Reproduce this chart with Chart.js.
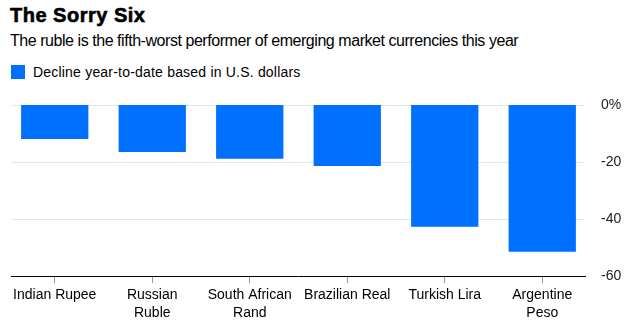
<!DOCTYPE html>
<html>
<head>
<meta charset="utf-8">
<script src="https://cdn.jsdelivr.net/npm/chart.js@4/dist/chart.umd.min.js"></script>
<style>
  html, body { margin: 0; padding: 0; background: #fff; }
  #wrap { position: relative; width: 626px; height: 334px; overflow: hidden; }
  #title { position: absolute; left: 10px; top: 4px; font: 900 20px "Liberation Sans", Arial, sans-serif; color: #000; letter-spacing: 0.5px; -webkit-text-stroke: 0.6px #000; white-space: nowrap; }
  #subtitle { position: absolute; left: 10px; top: 32px; font: 16px "Liberation Sans", Arial, sans-serif; color: #000; letter-spacing: -0.45px; white-space: nowrap; }
  #legend { position: absolute; left: 11px; top: 64px; font: 14px "Liberation Sans", Arial, sans-serif; color: #000; letter-spacing: 0.2px; white-space: nowrap; }
  #legend .sw { display: inline-block; width: 14px; height: 14px; background: #0070ff; vertical-align: -2px; margin-right: 8px; }
  canvas { position: absolute; left: 0; top: 0; }
</style>
</head>
<body>
<div id="wrap">
  <div id="title">The Sorry Six</div>
  <div id="subtitle">The ruble is the fifth-worst performer of emerging market currencies this year</div>
  <div id="legend"><span class="sw"></span>Decline year-to-date based in U.S. dollars</div>
  <canvas id="c" width="626" height="334"></canvas>
</div>
<script>
// Currencies (two-line axis labels)
const currencies = [
  ['Indian Rupee'],
  ['Russian', 'Ruble'],
  ['South African', 'Rand'],
  ['Brazilian Real'],
  ['Turkish Lira'],
  ['Argentine', 'Peso']
];
// Year-to-date change against the U.S. dollar, percent
const declinePct = [-11.9, -16.5, -18.9, -21.4, -42.7, -51.5];
const yTicks = [0, -20, -40, -60];

const BLUE = '#0070ff';

// Light horizontal guides and the black baseline at the bottom of the scale
const guideLines = {
  id: 'guideLines',
  beforeDatasetsDraw(chart) {
    const { ctx, scales: { y } } = chart;
    ctx.save();
    yTicks.forEach(v => {
      const py = Math.round(y.getPixelForValue(v)) + 0.5;
      ctx.beginPath();
      if (v === y.min) {
        ctx.strokeStyle = '#000';
        ctx.moveTo(11, py);
        ctx.lineTo(586, py);
      } else {
        ctx.strokeStyle = '#e6e6e6';
        ctx.moveTo(11, py);
        ctx.lineTo(584, py);
      }
      ctx.lineWidth = 1;
      ctx.stroke();
    });
    ctx.restore();
  }
};

new Chart(document.getElementById('c'), {
  type: 'bar',
  data: {
    labels: currencies,
    datasets: [{
      label: 'Decline year-to-date based in U.S. dollars',
      data: declinePct,
      backgroundColor: BLUE,
      borderWidth: 0,
      barPercentage: 0.69,
      categoryPercentage: 1.0
    }]
  },
  options: {
    responsive: false,
    animation: false,
    layout: { padding: { top: 105, left: 6, right: 0, bottom: 0 } },
    plugins: { legend: { display: false }, tooltip: { enabled: false } },
    scales: {
      x: {
        offset: true,
        afterFit(scale) { scale.height = 58; },
        grid: { display: true, offset: false, drawOnChartArea: false, drawTicks: true, tickLength: 7, color: '#999' },
        border: { display: false },
        ticks: {
          color: '#000',
          padding: 3,
          maxRotation: 0,
          autoSkip: false,
          font: { family: '"Liberation Sans", Arial, sans-serif', size: 14, lineHeight: 1.3 }
        }
      },
      y: {
        position: 'right',
        min: -60,
        max: 0,
        afterFit(scale) { scale.width = 35; },
        afterBuildTicks(scale) { scale.ticks = yTicks.map(v => ({ value: v })); },
        grid: { display: false },
        border: { display: false },
        ticks: {
          color: '#222',
          padding: 2,
          font: { family: '"Liberation Sans", Arial, sans-serif', size: 14 },
          callback: v => v === 0 ? '0%' : String(v)
        }
      }
    }
  },
  plugins: [guideLines]
});
</script>
</body>
</html>
